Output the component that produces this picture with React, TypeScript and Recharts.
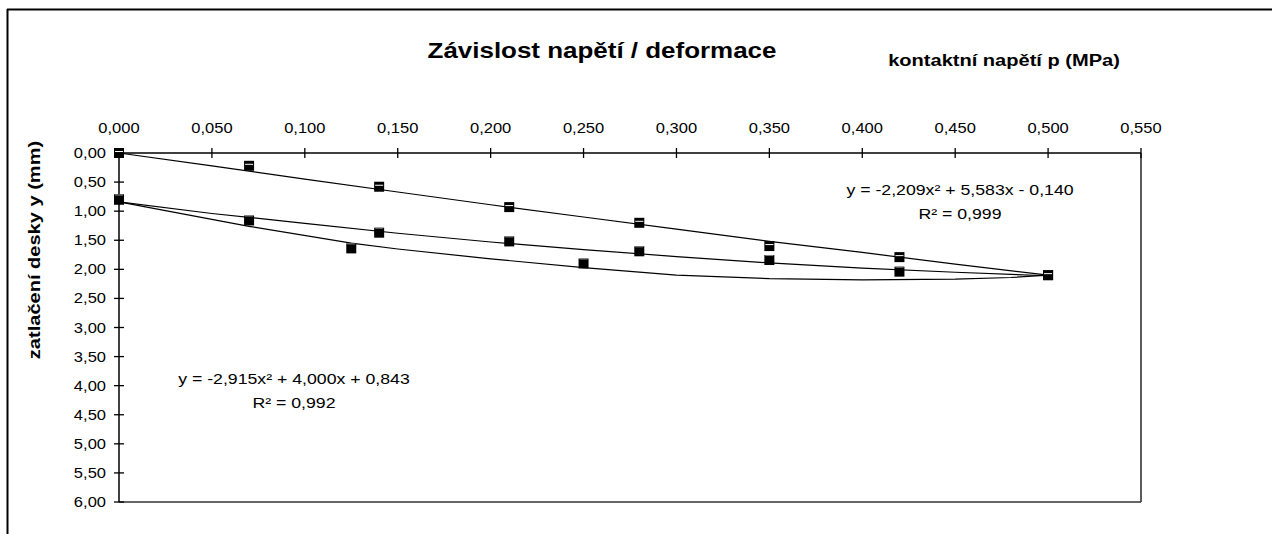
import React from 'react';
import { ScatterChart, Scatter, XAxis, YAxis, ReferenceLine } from 'recharts';

// kontaktní napětí p (MPa) / zatlačení desky y (mm)
const pressureTicks = [0, 0.05, 0.1, 0.15, 0.2, 0.25, 0.3, 0.35, 0.4, 0.45, 0.5, 0.55];
const deflectionTicks = [0, 0.5, 1, 1.5, 2, 2.5, 3, 3.5, 4, 4.5, 5, 5.5, 6];

// measured points
const loadP = [0, 0.07, 0.14, 0.21, 0.28, 0.35, 0.42, 0.5];
const loadY = [0, 0.22, 0.58, 0.93, 1.2, 1.6, 1.79, 2.1];
const unloadP = [0, 0.07, 0.14, 0.21, 0.28, 0.35, 0.42, 0.5];
const unloadY = [0.8, 1.16, 1.37, 1.52, 1.69, 1.84, 2.04, 2.1];
const thirdP = [0, 0.125, 0.25];
const thirdY = [0.8, 1.64, 1.9];

// trend lines
const upperTrendP = [0, 0.05, 0.1, 0.15, 0.2, 0.25, 0.3, 0.35, 0.4, 0.45, 0.5];
const upperTrendY = [0, 0.22, 0.45, 0.67, 0.89, 1.1, 1.31, 1.52, 1.71, 1.91, 2.1];
const middleTrendP = [0, 0.05, 0.1, 0.15, 0.2, 0.25, 0.3, 0.35, 0.4, 0.45, 0.5];
const middleTrendY = [0.84, 1.04, 1.21, 1.38, 1.53, 1.66, 1.78, 1.89, 1.98, 2.05, 2.11];
const lowerTrendP = [0, 0.07, 0.125, 0.15, 0.2, 0.25, 0.3, 0.35, 0.4, 0.45, 0.48, 0.5];
const lowerTrendY = [0.84, 1.26, 1.55, 1.65, 1.82, 1.97, 2.1, 2.16, 2.18, 2.17, 2.14, 2.1];

const toPoints = (p: number[], y: number[]) => p.map((v, i) => ({ p: v, y: y[i] }));

const FONT = '"Liberation Sans", Arial, sans-serif';
const SX = 1.18; // text in the original is stretched sideways

const fmt = (v: number, d: number) => v.toFixed(d).replace('.', ',');

const XTick = (props: any) => {
  const { x, y, payload } = props;
  return (
    <g>
      <line x1={x} x2={x} y1={y + 20} y2={y + 25} stroke="#000" strokeWidth={1.3} />
      <text transform={`translate(${x},${y}) scale(${SX},1)`} textAnchor="middle" fontSize={14} fontFamily={FONT} fill="#000">
        {fmt(payload.value, 3)}
      </text>
    </g>
  );
};

const YTick = (props: any) => {
  const { x, y, payload } = props;
  return (
    <g>
      <line x1={x + 13} x2={x + 18} y1={y} y2={y} stroke="#000" strokeWidth={1.3} />
      <text transform={`translate(${x},${y}) scale(${SX},1)`} textAnchor="end" dy="0.36em" fontSize={14} fontFamily={FONT} fill="#000">
        {fmt(payload.value, 2)}
      </text>
    </g>
  );
};

const StripedSquare = (props: any) => {
  const { cx, cy } = props;
  return (
    <g>
      <rect x={cx - 5} y={cy - 5} width={10} height={10} fill="#000" />
      <rect x={cx - 4} y={cy - 2} width={8} height={1} fill="#fff" />
    </g>
  );
};

const SolidSquare = (props: any) => {
  const { cx, cy } = props;
  return (
    <g>
      <rect x={cx - 5} y={cy - 5} width={10} height={10} fill="#000" />
      <rect x={cx - 4} y={cy - 5} width={8} height={1} fill="#888" />
    </g>
  );
};

const NoDot = () => <g />;

const App: React.FC = () => {
  const lineStyle = { stroke: '#000', strokeWidth: 1.2 };
  return (
    <div style={{ position: 'fixed', left: 0, top: 0, width: 1272, height: 534, background: '#fff' }}>
      <ScatterChart width={1272} height={534} margin={{ top: 100, right: 131, bottom: 32, left: 60 }}>
        <XAxis
          dataKey="p"
          type="number"
          orientation="top"
          domain={[0, 0.55]}
          ticks={pressureTicks}
          interval={0}
          height={53}
          tickSize={5}
          tickMargin={15}
          tick={<XTick />}
          axisLine={{ stroke: '#000', strokeWidth: 1.5 }}
          tickLine={{ stroke: '#000', strokeWidth: 1.3 }}
        />
        <YAxis
          dataKey="y"
          type="number"
          reversed
          domain={[0, 6]}
          ticks={deflectionTicks}
          interval={0}
          width={59}
          tickSize={5}
          tickMargin={8}
          tick={<YTick />}
          axisLine={{ stroke: '#000', strokeWidth: 1.5 }}
          tickLine={{ stroke: '#000', strokeWidth: 1.3 }}
        />
        <ReferenceLine x={0.55} stroke="#333" strokeWidth={1.6} />
        <ReferenceLine y={6} stroke="#333" strokeWidth={1.6} />

        <Scatter data={toPoints(upperTrendP, upperTrendY)} line={lineStyle} shape={NoDot} isAnimationActive={false} />
        <Scatter data={toPoints(middleTrendP, middleTrendY)} line={lineStyle} shape={NoDot} isAnimationActive={false} />
        <Scatter data={toPoints(lowerTrendP, lowerTrendY)} line={lineStyle} shape={NoDot} isAnimationActive={false} />

        <Scatter data={toPoints(thirdP, thirdY)} shape={SolidSquare} isAnimationActive={false} />
        <Scatter data={toPoints(unloadP, unloadY)} shape={SolidSquare} isAnimationActive={false} />
        <Scatter data={toPoints(loadP, loadY)} shape={StripedSquare} isAnimationActive={false} />
      </ScatterChart>

      <svg width={1272} height={534} style={{ position: 'absolute', left: 0, top: 0, pointerEvents: 'none' }}>
        <line x1={7} x2={1272} y1={9.5} y2={9.5} stroke="#000" strokeWidth={2} />
        <line x1={7.5} x2={7.5} y1={9} y2={534} stroke="#000" strokeWidth={2} />
        <g fontFamily={FONT} fill="#000">
          <text transform={`translate(602,58) scale(${SX},1)`} textAnchor="middle" fontSize={22} fontWeight="bold">
            Závislost napětí / deformace
          </text>
          <text transform={`translate(1004,66) scale(${SX},1)`} textAnchor="middle" fontSize={17} fontWeight="bold">
            kontaktní napětí p (MPa)
          </text>
          <text transform={`translate(39.5,250) rotate(-90) scale(${SX},1)`} textAnchor="middle" fontSize={17} fontWeight="bold">
            zatlačení desky y (mm)
          </text>
          <text transform={`translate(960,195) scale(${SX},1)`} textAnchor="middle" fontSize={15}>
            y = -2,209x² + 5,583x - 0,140
          </text>
          <text transform={`translate(960,219) scale(${SX},1)`} textAnchor="middle" fontSize={15}>
            R² = 0,999
          </text>
          <text transform={`translate(294,384) scale(${SX},1)`} textAnchor="middle" fontSize={15}>
            y = -2,915x² + 4,000x + 0,843
          </text>
          <text transform={`translate(294,408) scale(${SX},1)`} textAnchor="middle" fontSize={15}>
            R² = 0,992
          </text>
        </g>
      </svg>
    </div>
  );
};

export default App;
